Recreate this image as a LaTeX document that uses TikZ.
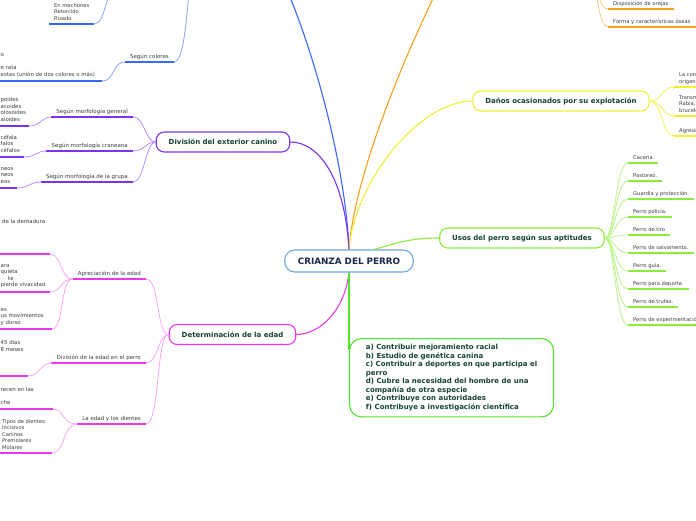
\documentclass[tikz,border=0pt]{standalone}
\usepackage{fontspec}
\setmainfont{DejaVu Sans}
\usetikzlibrary{positioning, calc}
\definecolor{mapblue}{RGB}{56, 105, 245}
\definecolor{mappurple}{RGB}{120, 52, 238}
\definecolor{mapmagenta}{RGB}{236, 56, 236}
\definecolor{maporange}{RGB}{247, 160, 30}
\definecolor{mapyellow}{RGB}{240, 240, 50}
\definecolor{mapgreen}{RGB}{140, 236, 60}
\definecolor{listgreen}{RGB}{80, 226, 40}
\definecolor{crianzaline}{RGB}{110, 168, 222}
\definecolor{nodetext}{RGB}{20, 66, 50}
\definecolor{centertext}{RGB}{26, 40, 76}
\definecolor{leaftext}{RGB}{60, 60, 60}

\begin{document}
\begin{tikzpicture}[x=1pt, y=-1pt,
  topic/.style={draw, rounded corners=8pt, line width=1.1pt, fill=white, text=nodetext, font=\fontsize{7}{8}\selectfont\bfseries, inner xsep=12.5, minimum height=20},
  sub/.style={text=leaftext, font=\fontsize{5.5}{6.5}\selectfont, inner xsep=5, inner ysep=2.5, text depth=1.2},
  leaf/.style={text=leaftext, font=\fontsize{5.2}{6.4}\selectfont, align=left, inner xsep=5, inner ysep=2.5, text depth=1.2},
  cut/.style={text=leaftext, font=\fontsize{5.4}{6.4}\selectfont, inner sep=0, anchor=base west},
  branch/.style={line width=1.1pt},
  twig/.style={line width=0.8pt},
  uline/.style={line width=1.8pt},
  lline/.style={line width=1.4pt}
]
  \useasboundingbox (0,0) rectangle (696,520);
  \clip (0,0) rectangle (696,520);

  % centre and main topics
  \node[topic, draw=crianzaline, text=centertext, font=\fontsize{8.8}{10}\selectfont\bfseries, rounded corners=10pt, minimum height=22, inner xsep=13] (crianza) at (349,261) {CRIANZA DEL PERRO};
  \node[topic, draw=mappurple] (exterior) at (223,142) {División del exterior canino};
  \node[topic, draw=mapmagenta] (edad) at (232.5,334.5) {Determinación de la edad};
  \node[topic, draw=mapyellow] (danos) at (561,101) {Daños ocasionados por su explotación};
  \node[topic, draw=mapgreen] (usos) at (522,238) {Usos del perro según sus aptitudes};
  \node[draw=listgreen, line width=1.1pt, rounded corners=12pt, text=nodetext, font=\fontsize{7}{8.5}\selectfont\bfseries, align=left, anchor=north west, inner xsep=14, inner ysep=6, minimum width=204] (fines) at (349,338) {
    a) Contribuir mejoramiento racial\\
    b) Estudio de genética canina\\
    c) Contribuir a deportes en que participa el\\
    perro\\
    d) Cubre la necesidad del hombre de una\\
    compañía de otra especie\\
    e) Contribuye con autoridades\\
    f) Contribuye a investigación científica
  };

  % topics above the picture
  \coordinate (pelaje) at (262,-60);
  \coordinate (colroot) at (200,-50);
  \coordinate (peloroot) at (118,-15);
  \coordinate (rasgos) at (462,-60);
  \coordinate (oroot) at (592,-14);

  \draw[branch, mapblue] (crianza.north) .. controls (345,150) and (300,0) .. (pelaje);
  \draw[branch, maporange] (crianza.north) .. controls (355,170) and (410,40) .. (rasgos);
  \draw[branch, mapyellow] (crianza.north) .. controls (355,180) and (420,101) .. (danos.west);
  \draw[branch, mappurple] (crianza.north) .. controls (345,180) and (320,142) .. (exterior.east);
  \draw[branch, mapgreen] ($(crianza.north)+(25,0)$) .. controls (400,242) and (412,238) .. (usos.west);
  \draw[branch, mapmagenta] (crianza.south) .. controls (345,310) and (320,334.5) .. (edad.east);
  \draw[branch, listgreen] (crianza.south) -- ($(fines.north west)+(0,12)$);

  % blue
  \node[sub, anchor=south east] (colores) at (174,62) {Según colores};
  \draw[uline, mapblue] (colores.south west) -- (colores.south east);
  \draw[twig, mapblue!60] (colores.south east) .. controls (190,62) and (186,-50) .. (colroot);
  \coordinate (lcolor) at (102,81);
  \draw[lline, mapblue] (lcolor) -- (-5,81);
  \draw[twig, mapblue!60] (colores.south west) .. controls (112,62) and (115,81) .. (lcolor);
  \node[cut] (col1) at (0.5,56.8) {o};
  \node[cut] (col2) at (0.5,69.8) {e rata};
  \node[cut] (col3) at (0.5,76.8) {estas (unión de dos colores o más)};
  \node[leaf, anchor=south west] (pelo) at (49,24) {Ondulado\\En mechones\\Retorcido\\Rizado};
  \draw[lline, mapblue] (pelo.south west) -- (pelo.south east);
  \draw[twig, mapblue!60] (pelo.south east) .. controls (106,24) and (106,-15) .. (peloroot);

  % purple
  \node[sub, anchor=south east] (general) at (133,117) {Según morfología general};
  \node[sub, anchor=south east] (craneana) at (133,151) {Según morfología craneana};
  \node[sub, anchor=south east] (grupa) at (133,182) {Según morfología de la grupa};
  \draw[uline, mappurple] (general.south west) -- (general.south east);
  \draw[uline, mappurple] (craneana.south west) -- (craneana.south east);
  \draw[uline, mappurple] (grupa.south west) -- (grupa.south east);
  \draw[twig, mappurple!55] (exterior.west) .. controls (145,142) and (145,117) .. (general.south east);
  \draw[twig, mappurple!55] (exterior.west) .. controls (145,142) and (145,151) .. (craneana.south east);
  \draw[twig, mappurple!55] (exterior.west) .. controls (145,142) and (145,182) .. (grupa.south east);
  \coordinate (lgen) at (29,126);
  \coordinate (lcran) at (24,157);
  \coordinate (lgrupa) at (17,188);
  \draw[lline, mappurple] (lgen) -- (-5,126);
  \draw[lline, mappurple] (lcran) -- (-5,157);
  \draw[lline, mappurple] (lgrupa) -- (-5,188);
  \draw[twig, mappurple!55] (general.south west) .. controls (41,117) and (41,126) .. (lgen);
  \draw[twig, mappurple!55] (craneana.south west) .. controls (36,151) and (36,157) .. (lcran);
  \draw[twig, mappurple!55] (grupa.south west) .. controls (29,182) and (29,188) .. (lgrupa);
  \node[cut] (gen1) at (0.5,101.8) {poides};
  \node[cut] (gen2) at (0.5,108.8) {acoides};
  \node[cut] (gen3) at (0.5,114.8) {olosoides};
  \node[cut] (gen4) at (0.5,121.8) {aioides};
  \node[cut] (cran1) at (0.5,139.8) {céfala};
  \node[cut] (cran2) at (0.5,145.8) {falos};
  \node[cut] (cran3) at (0.5,152.8) {céfalos};
  \node[cut] (grupa1) at (0.5,170.8) {neos};
  \node[cut] (grupa2) at (0.5,176.8) {neos};
  \node[cut] (grupa3) at (0.5,183.8) {eos};

  % magenta
  \node[sub, anchor=south east] (apreciacion) at (146,279) {Apreciación de la edad};
  \node[sub, anchor=south east] (division) at (146,363) {División de la edad en el perro};
  \node[sub, anchor=south east] (dientes) at (146,424) {La edad y los dientes};
  \draw[uline, mapmagenta] (apreciacion.south west) -- (apreciacion.south east);
  \draw[uline, mapmagenta] (division.south west) -- (division.south east);
  \draw[uline, mapmagenta] (dientes.south west) -- (dientes.south east);
  \draw[twig, mapmagenta!45] (edad.west) .. controls (156,334.5) and (160,279) .. (apreciacion.south east);
  \draw[twig, mapmagenta!45] (edad.west) .. controls (158,334.5) and (158,363) .. (division.south east);
  \draw[twig, mapmagenta!45] (edad.west) .. controls (156,334.5) and (160,424) .. (dientes.south east);
  \coordinate (lden) at (50,254);
  \coordinate (lviv) at (50,292);
  \coordinate (ldorso) at (52,329);
  \coordinate (ldias) at (28,376);
  \coordinate (lleche) at (53,409);
  \draw[lline, mapmagenta] (lden) -- (-5,254);
  \draw[lline, mapmagenta] (lviv) -- (-5,292);
  \draw[lline, mapmagenta] (ldorso) -- (-5,329);
  \draw[lline, mapmagenta] (ldias) -- (-5,376);
  \draw[lline, mapmagenta] (lleche) -- (-5,409);
  \draw[twig, mapmagenta!45] (apreciacion.south west) .. controls (60,279) and (62,254) .. (lden);
  \draw[twig, mapmagenta!45] (apreciacion.south west) .. controls (60,279) and (62,292) .. (lviv);
  \draw[twig, mapmagenta!45] (apreciacion.south west) .. controls (60,279) and (64,329) .. (ldorso);
  \draw[twig, mapmagenta!45] (division.south west) .. controls (40,363) and (40,376) .. (ldias);
  \node[cut] (den1) at (2,223.8) {de la dentadura};
  \node[cut] (viv1) at (0.5,267.8) {ara};
  \node[cut] (viv2) at (0.5,273.8) {quieta};
  \node[cut] (viv3) at (8,280.8) {te};
  \node[cut] (viv4) at (0.5,286.8) {pierde vivacidad};
  \node[cut] (dorso1) at (0.5,311.8) {es};
  \node[cut] (dorso2) at (0.5,317.8) {us movimientos};
  \node[cut] (dorso3) at (0.5,324.8) {y dorso};
  \node[cut] (dias1) at (0.5,344.8) {45 días};
  \node[cut] (dias2) at (0.5,351.8) {8 meses};
  \node[cut] (leche1) at (0.5,391.8) {recen en las};
  \node[cut] (leche2) at (0.5,404.8) {che};
  \node[leaf, anchor=south west] (tipos) at (-3,453) {Tipos de dientes:\\Incisivos\\Caninos\\Premolares\\Molares};
  \draw[lline, mapmagenta] (tipos.south west) -- (tipos.south east);
  \draw[twig, mapmagenta!45] (dientes.south west) .. controls (62,424) and (64,409) .. (lleche);
  \draw[twig, mapmagenta!45] (dientes.south west) .. controls (62,424) and (66,453) .. (tipos.south east);

  % orange
  \node[leaf, anchor=south west] (orejas) at (608,9) {Disposición de orejas};
  \node[leaf, anchor=south west] (oseas) at (608,27) {Forma y características óseas};
  \draw[lline, maporange] (orejas.south west) -- (orejas.south east);
  \draw[lline, maporange] (oseas.south west) -- (oseas.south east);
  \draw[twig, maporange!55] (oroot) .. controls (600,-14) and (598,9) .. (orejas.south west);
  \draw[twig, maporange!55] (oroot) .. controls (598,-14) and (598,27) .. (oseas.south west);

  % yellow
  \node[leaf, anchor=south west] (contam) at (674,87) {La contaminación\\origen};
  \node[leaf, anchor=south west] (transm) at (674,116) {Transmisión de\\Rabia,\\brucelosis};
  \node[leaf, anchor=south west] (agres) at (674,136) {Agresiones};
  \draw[lline, mapyellow] (contam.south west) -- (contam.south east);
  \draw[lline, mapyellow] (transm.south west) -- (transm.south east);
  \draw[lline, mapyellow] (agres.south west) -- (agres.south east);
  \draw[twig, mapyellow!80] (danos.east) .. controls (662,101) and (662,87) .. (contam.south west);
  \draw[twig, mapyellow!80] (danos.east) .. controls (662,101) and (662,116) .. (transm.south west);
  \draw[twig, mapyellow!80] (danos.east) .. controls (662,101) and (662,136) .. (agres.south west);

  % green
  \node[leaf, anchor=south west] (uso1) at (628,163) {Caceria};
  \node[leaf, anchor=south west] (uso2) at (628,181) {Pastoreo.};
  \node[leaf, anchor=south west] (uso3) at (628,199) {Guardia y protección.};
  \node[leaf, anchor=south west] (uso4) at (628,217) {Perro policía.};
  \node[leaf, anchor=south west] (uso5) at (628,235) {Perro de tiro};
  \node[leaf, anchor=south west] (uso6) at (628,253) {Perro de salvamento.};
  \node[leaf, anchor=south west] (uso7) at (628,271) {Perro guía.};
  \node[leaf, anchor=south west] (uso8) at (628,289) {Perro para deporte.};
  \node[leaf, anchor=south west] (uso9) at (628,307) {Perro de trufas.};
  \node[leaf, anchor=south west] (uso10) at (628,325) {Perro de experimentación};
  \draw[lline, mapgreen] (uso1.south west) -- (uso1.south east);
  \draw[lline, mapgreen] (uso2.south west) -- (uso2.south east);
  \draw[lline, mapgreen] (uso3.south west) -- (uso3.south east);
  \draw[lline, mapgreen] (uso4.south west) -- (uso4.south east);
  \draw[lline, mapgreen] (uso5.south west) -- (uso5.south east);
  \draw[lline, mapgreen] (uso6.south west) -- (uso6.south east);
  \draw[lline, mapgreen] (uso7.south west) -- (uso7.south east);
  \draw[lline, mapgreen] (uso8.south west) -- (uso8.south east);
  \draw[lline, mapgreen] (uso9.south west) -- (uso9.south east);
  \draw[lline, mapgreen] (uso10.south west) -- (uso10.south east);
  \draw[twig, mapgreen!60] (usos.east) .. controls (615,238) and (615,163) .. (uso1.south west);
  \draw[twig, mapgreen!60] (usos.east) .. controls (615,238) and (615,181) .. (uso2.south west);
  \draw[twig, mapgreen!60] (usos.east) .. controls (615,238) and (615,199) .. (uso3.south west);
  \draw[twig, mapgreen!60] (usos.east) .. controls (615,238) and (615,217) .. (uso4.south west);
  \draw[twig, mapgreen!60] (usos.east) .. controls (615,238) and (615,235) .. (uso5.south west);
  \draw[twig, mapgreen!60] (usos.east) .. controls (615,238) and (615,253) .. (uso6.south west);
  \draw[twig, mapgreen!60] (usos.east) .. controls (615,238) and (615,271) .. (uso7.south west);
  \draw[twig, mapgreen!60] (usos.east) .. controls (615,238) and (615,289) .. (uso8.south west);
  \draw[twig, mapgreen!60] (usos.east) .. controls (615,238) and (615,307) .. (uso9.south west);
  \draw[twig, mapgreen!60] (usos.east) .. controls (615,238) and (615,325) .. (uso10.south west);
\end{tikzpicture}
\end{document}
